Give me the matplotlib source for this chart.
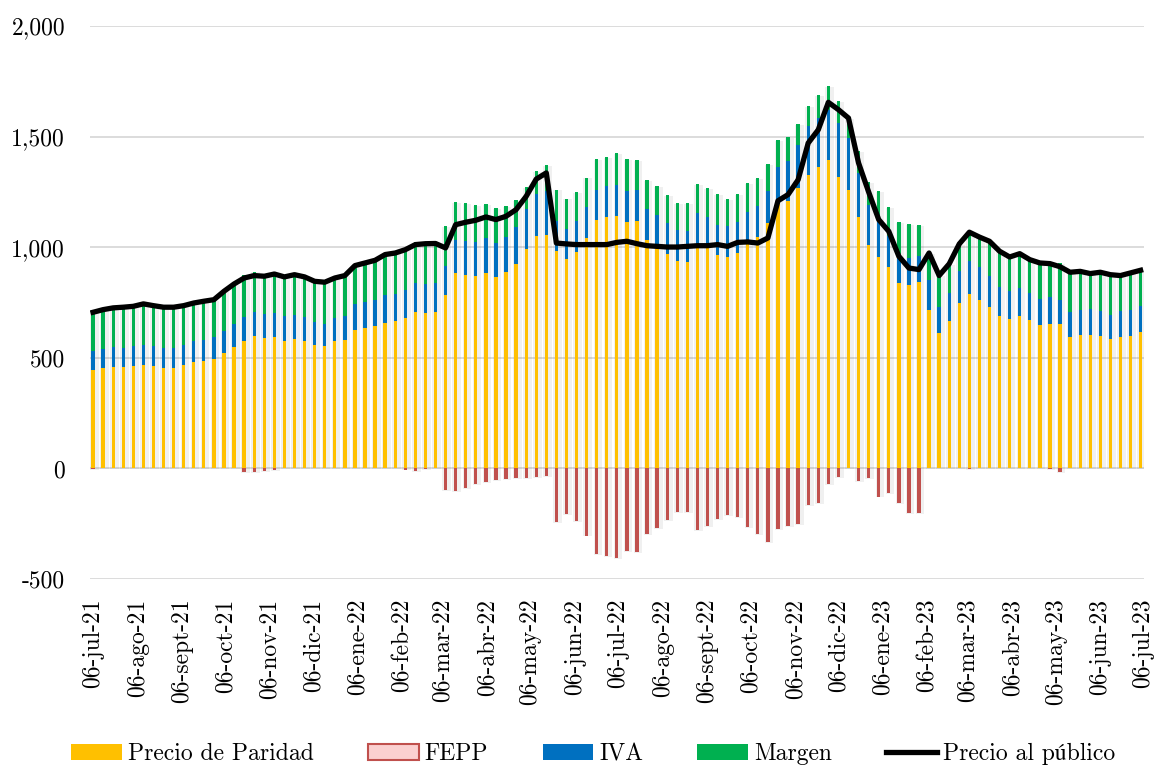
import matplotlib
matplotlib.use("Agg")
import matplotlib.pyplot as plt
import matplotlib.dates as mdates
from matplotlib.patches import Patch
from matplotlib.lines import Line2D
from matplotlib.ticker import FuncFormatter
import numpy as np
import pandas as pd

plt.rcParams['font.family'] = ['cmr10', 'STIXGeneral']
plt.rcParams['axes.unicode_minus'] = False

# weekly data, 06-jul-21 .. 04-jul-23
semanas = pd.date_range('2021-07-06', periods=105, freq='7D')

paridad = [447, 455, 459, 458, 462, 470, 462, 455, 455, 467, 480, 485, 495, 523, 550, 575, 598, 590, 595, 575,
           586, 575, 556, 553, 575, 580, 628, 634, 643, 658, 666, 678, 708, 703, 706, 786, 884, 876, 872, 884,
           864, 887, 925, 992, 1050, 1057, 982, 947, 977, 1042, 1125, 1137, 1143, 1113, 1117, 1034, 1012, 971, 937, 934,
           1016, 1001, 964, 955, 974, 1019, 1047, 1110, 1210, 1208, 1268, 1328, 1363, 1393, 1317, 1260, 1137, 1012, 956, 911,
           839, 828, 842, 718, 613, 668, 748, 790, 763, 730, 688, 676, 688, 669, 647, 655, 652, 595, 605, 605,
           598, 586, 595, 601, 616]
fepp = [-3, 0, 0, 0, 0, 0, 0, 0, 0, 0, 0, 0, 0, 0, 0, -15, -18, -10, -8, 0,
        0, 0, 0, 0, 0, 0, 0, 0, 0, 0, 0, -5, -10, -3, 0, -98, -102, -87, -69, -60,
        -53, -47, -45, -42, -38, -35, -242, -205, -238, -303, -386, -396, -404, -373, -378, -295, -271, -233, -197, -197,
        -279, -261, -227, -212, -220, -265, -295, -333, -275, -262, -250, -167, -155, -72, -40, 0, -55, -45, -127, -110,
        -155, -200, -200, 0, 0, 0, 0, -3, 0, 0, 0, 0, 0, 0, 0, -3, -15, 0, 0, 0,
        0, 0, 0, 0, 0]
iva = [83, 87, 89, 87, 91, 90, 91, 89, 89, 90, 95, 95, 98, 100, 105, 109, 108, 109, 108, 113,
       110, 110, 105, 102, 106, 108, 117, 117, 120, 124, 124, 128, 131, 133, 133, 128, 150, 151, 150, 158,
       155, 158, 167, 181, 191, 199, 135, 137, 140, 138, 135, 138, 140, 140, 140, 139, 135, 139, 140, 141,
       139, 136, 138, 140, 140, 139, 141, 143, 153, 180, 196, 221, 221, 228, 244, 234, 199, 181, 169, 138,
       120, 124, 117, 136, 116, 125, 143, 150, 146, 139, 133, 128, 127, 124, 121, 119, 111, 113, 113, 116,
       116, 110, 116, 117, 117]
margen = [179, 176, 178, 184, 180, 184, 183, 185, 185, 179, 173, 176, 170, 178, 179, 192, 184, 180, 184, 178,
          180, 181, 185, 187, 180, 184, 172, 178, 178, 185, 184, 188, 183, 183, 178, 181, 170, 173, 169, 155,
          159, 142, 123, 99, 105, 115, 144, 136, 133, 135, 138, 133, 143, 147, 137, 129, 128, 124, 121, 126,
          131, 131, 137, 121, 128, 131, 126, 122, 122, 112, 91, 89, 102, 106, 101, 90, 100, 102, 127, 133,
          155, 154, 140, 120, 143, 132, 124, 131, 137, 158, 161, 152, 156, 151, 161, 155, 164, 179, 173, 160,
          173, 180, 161, 166, 163]
publico = [706, 718, 726, 729, 733, 744, 736, 729, 729, 736, 748, 756, 763, 801, 834, 861, 872, 869, 879, 866,
           876, 866, 846, 842, 861, 872, 917, 929, 941, 967, 974, 989, 1012, 1016, 1017, 997, 1102, 1113, 1122, 1137,
           1125, 1140, 1170, 1230, 1308, 1336, 1019, 1015, 1012, 1012, 1012, 1012, 1022, 1027, 1016, 1007, 1004, 1001, 1001, 1004,
           1007, 1007, 1012, 1004, 1022, 1024, 1019, 1042, 1210, 1238, 1305, 1471, 1531, 1655, 1622, 1584, 1381, 1250, 1125, 1072,
           959, 906, 899, 974, 872, 925, 1015, 1068, 1046, 1027, 982, 956, 971, 944, 929, 926, 912, 887, 891, 881,
           887, 876, 872, 884, 896]

meses = pd.date_range('2021-07-06', periods=25, freq=pd.DateOffset(months=1))
etiquetas = ['06-jul-21', '06-ago-21', '06-sept-21', '06-oct-21', '06-nov-21', '06-dic-21', '06-ene-22',
             '06-feb-22', '06-mar-22', '06-abr-22', '06-may-22', '06-jun-22', '06-jul-22', '06-ago-22',
             '06-sept-22', '06-oct-22', '06-nov-22', '06-dic-22', '06-ene-23', '06-feb-23', '06-mar-23',
             '06-abr-23', '06-may-23', '06-jun-23', '06-jul-23']

x = mdates.date2num(semanas)
par = np.array(paridad)
iv = np.array(iva)
mar = np.array(margen)
fe = np.array(fepp)

fig = plt.figure(figsize=(11.54, 7.65), dpi=100)
ax = fig.add_axes([0.078, 0.243, 0.913, 0.723])

w = 2.3
# soft shadow behind the bars
ax.bar(x + 0.8, par + iv + mar - fe, bottom=fe - 4, width=6.0, color='black', alpha=0.06,
       linewidth=0, zorder=1)
ax.bar(x, paridad, width=w, color='#FFC000', zorder=2)
ax.bar(x, fepp, width=w, color='#C0504D', zorder=2)
ax.bar(x, iva, bottom=par, width=w, color='#0070C0', zorder=2)
ax.bar(x, margen, bottom=par + iv, width=w, color='#00B050', zorder=2)
ax.plot(x, publico, color='black', lw=3.8, zorder=3, solid_joinstyle='round')

ax.set_ylim(-500, 2000)
ax.set_yticks([-500, 0, 500, 1000, 1500, 2000])
ax.yaxis.set_major_formatter(FuncFormatter(lambda v, p: '{:,.0f}'.format(v)))
ax.set_xlim(x[0] - 2.1, x[0] + 730.1)
ax.set_xticks(mdates.date2num(meses))
ax.set_xticklabels(etiquetas, rotation=90)
ax.tick_params(axis='both', length=0, labelsize=17)
ax.tick_params(axis='y', pad=18)
ax.tick_params(axis='x', pad=14)
ax.grid(axis='y', color='#D9D9D9', lw=1.3, zorder=0)
ax.set_axisbelow(True)
for s in ax.spines.values():
    s.set_visible(False)

handles = [Patch(facecolor='#FFC000', label='Precio de Paridad'),
           Patch(facecolor='#FBD0D0', edgecolor='#C0504D', linewidth=1.5, label='FEPP'),
           Patch(facecolor='#0070C0', label='IVA'),
           Patch(facecolor='#00B050', label='Margen'),
           Line2D([0], [0], color='black', lw=3.8, label='Precio al público')]
fig.legend(handles=handles, loc='lower center', bbox_to_anchor=(0.514, -0.028), ncol=5, frameon=False,
           fontsize=17, handlelength=2.15, handleheight=0.65, columnspacing=2.3, handletextpad=0.25)

plt.savefig('out.png', dpi=100)
